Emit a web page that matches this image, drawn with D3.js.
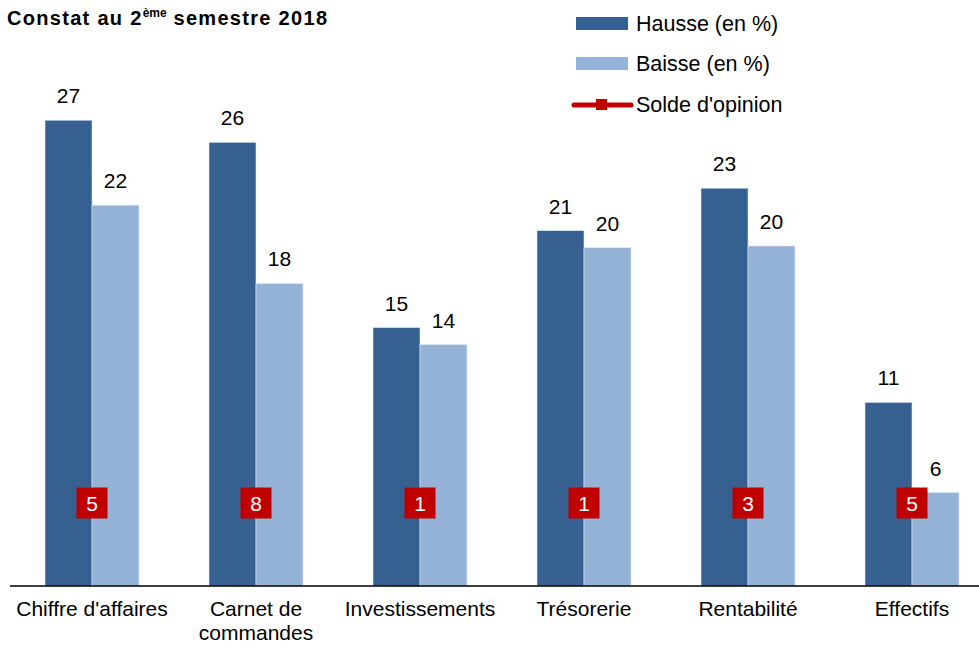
<!DOCTYPE html>
<html>
<head>
<meta charset="utf-8">
<script src="https://cdn.jsdelivr.net/npm/d3@7"></script>
<style>
  body { margin: 0; background: #fff; }
  text { font-family: "Liberation Sans", Arial, sans-serif; }
</style>
</head>
<body>
<div id="chart"></div>
<script>
var categories = ["Chiffre d'affaires", "Carnet de commandes", "Investissements", "Trésorerie", "Rentabilité", "Effectifs"];
var hausse = [27.4, 26.1, 15.2, 20.9, 23.4, 10.8];
var baisse = [22.4, 17.8, 14.2, 19.9, 20.0, 5.5];
var solde = [5, 8, 1, 1, 3, 5];
var series = ["Hausse (en %)", "Baisse (en %)"];

var width = 979,
    height = 646,
    baseY = 586;

var colors = ["#36608f", "#95b3d7"];

var svg = d3.select("#chart").append("svg")
    .attr("width", width)
    .attr("height", height)
    .style("display", "block")

var rows = categories.map(function(c, i) {
    return { cat: c, vals: [hausse[i], baisse[i]], solde: solde[i] }
})

var x0 = d3.scaleBand()
    .domain(categories)
    .range([10, 994])
    .paddingInner(0.427)
    .paddingOuter(0.2135)

var x1 = d3.scaleBand()
    .domain([0, 1])
    .range([0, x0.bandwidth()])

var y = d3.scaleLinear()
    .domain([0, 30])
    .range([baseY, baseY - 30 * 17])

// bars
var groups = svg.selectAll(".grp")
    .data(rows)
    .enter()
    .append("g")
    .attr("class", "grp")
    .attr("transform", function(d) { return "translate(" + x0(d.cat) + ",0)" })

groups.selectAll("rect")
    .data(function(d) { return d.vals.map(function(v, i) { return { v: v, i: i } }) })
    .enter()
    .append("rect")
    .attr("x", function(d) { return x1(d.i) })
    .attr("y", function(d) { return y(d.v) })
    .attr("width", x1.bandwidth())
    .attr("height", function(d) { return baseY - y(d.v) })
    .attr("fill", function(d) { return colors[d.i] })
    .attr("stroke", "#dce6f2")
    .attr("stroke-width", 0.6)

groups.selectAll(".val")
    .data(function(d) { return d.vals.map(function(v, i) { return { v: v, i: i } }) })
    .enter()
    .append("text")
    .attr("class", "val")
    .attr("x", function(d) { return x1(d.i) + x1.bandwidth() / 2 })
    .attr("y", function(d) { return y(d.v) - 17 })
    .attr("text-anchor", "middle")
    .style("font-size", "21px")
    .style("fill", "#000")
    .text(function(d) { return Math.round(d.v) })

// solde markers (fixed row)
var markY = 503
groups.append("rect")
    .attr("x", x0.bandwidth() / 2 - 15.5)
    .attr("y", markY - 15.5)
    .attr("width", 31)
    .attr("height", 31)
    .attr("fill", "#c00000")

groups.append("text")
    .attr("x", x0.bandwidth() / 2)
    .attr("y", markY + 7.5)
    .attr("text-anchor", "middle")
    .style("font-size", "21px")
    .style("fill", "#fff")
    .text(function(d) { return d.solde })

// axis
var xAxis = d3.axisBottom(x0).tickSize(0).tickPadding(0)
var ax = svg.append("g")
    .attr("transform", "translate(0," + baseY + ")")
    .call(xAxis)
ax.select(".domain").remove()
ax.selectAll("text").remove()

svg.append("line")
    .attr("x1", 10)
    .attr("x2", width)
    .attr("y1", baseY)
    .attr("y2", baseY)
    .attr("stroke", "#000")
    .attr("stroke-width", 1.5)

var labelLines = {
    "Carnet de commandes": ["Carnet de", "commandes"]
}
ax.selectAll(".tick").each(function(d) {
    var t = d3.select(this).append("text")
        .attr("y", 30)
        .attr("text-anchor", "middle")
        .style("font-size", "21px")
        .style("fill", "#000")
    var lines = labelLines[d] || [d]
    lines.forEach(function(l, i) {
        t.append("tspan").attr("x", 0).attr("dy", i === 0 ? 0 : 24).text(l)
    })
})

// title
var title = svg.append("text")
    .attr("x", 7)
    .attr("y", 25)
    .style("font-size", "20px")
    .style("letter-spacing", "1.3px")
    .attr("font-weight", "bold")
    .style("fill", "#000")
title.append("tspan").text("Constat au 2")
title.append("tspan").attr("dy", -8).style("font-size", "12px").style("letter-spacing", "0px").text("ème")
title.append("tspan").attr("dy", 8).text(" semestre 2018")

// legend
var legend = svg.append("g").attr("transform", "translate(576,0)")
series.forEach(function(s, i) {
    legend.append("rect")
        .attr("x", 0)
        .attr("y", 17 + i * 40)
        .attr("width", 52)
        .attr("height", 13)
        .attr("fill", colors[i])
    legend.append("text")
        .attr("x", 60)
        .attr("y", 31 + i * 40)
        .style("font-size", "21.5px")
        .style("fill", "#000")
        .text(s)
})
legend.append("line")
    .attr("x1", -2).attr("x2", 55)
    .attr("y1", 105).attr("y2", 105)
    .attr("stroke", "#c00000")
    .attr("stroke-width", 5)
    .attr("stroke-linecap", "round")
legend.append("rect")
    .attr("x", 20).attr("y", 99)
    .attr("width", 11).attr("height", 11)
    .attr("fill", "#c00000")
legend.append("text")
    .attr("x", 60)
    .attr("y", 112)
    .style("font-size", "21.5px")
    .style("fill", "#000")
    .text("Solde d'opinion")
</script>
</body>
</html>
